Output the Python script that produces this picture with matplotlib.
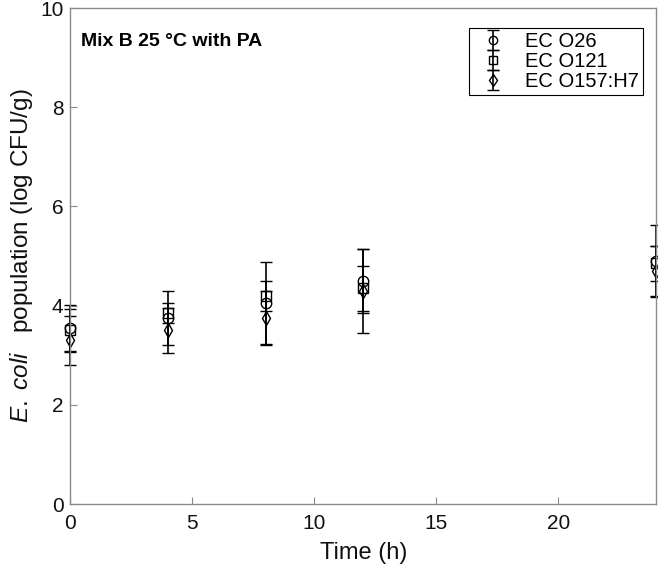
import matplotlib
matplotlib.use("Agg")
import matplotlib.pyplot as plt

plt.rcParams['font.family'] = ['Liberation Sans', 'DejaVu Sans']
plt.rcParams['mathtext.fontset'] = 'custom'
plt.rcParams['mathtext.rm'] = 'Liberation Sans'
plt.rcParams['mathtext.it'] = 'Liberation Sans:italic'

# data (log CFU/g)
time_h = [0, 4, 8, 12, 24]
o26_mean = [3.55, 3.75, 4.05, 4.50, 4.90]
o26_sd = [0.47, 0.55, 0.82, 0.65, 0.72]
o121_mean = [3.50, 3.85, 4.20, 4.35, 4.85]
o121_sd = [0.43, 0.20, 0.30, 0.45, 0.35]
o157_mean = [3.30, 3.50, 3.75, 4.30, 4.70]
o157_sd = [0.50, 0.45, 0.55, 0.85, 0.50]

series = [
    (o26_mean, o26_sd, 'o', 'EC O26'),
    (o121_mean, o121_sd, 's', 'EC O121'),
    (o157_mean, o157_sd, 'd', 'EC O157:H7'),
]

fig = plt.figure(figsize=(6.58, 5.76), dpi=100)
ax = fig.add_axes([0.107, 0.125, 0.89, 0.861])

for mean, sd, mk, lab in series:
    ax.errorbar(time_h, mean, yerr=sd, fmt=mk, color='black', mfc='none',
                mec='black', ms=7.5, mew=1.0, elinewidth=1.2, capsize=4,
                capthick=1.2, label=lab, clip_on=False)

ax.set_xlim(0, 24)
ax.set_ylim(0, 10)
ax.set_xticks([0, 5, 10, 15, 20])
ax.set_yticks([0, 2, 4, 6, 8, 10])

for sp in ax.spines.values():
    sp.set_color('#8a8a8a')
    sp.set_linewidth(1.0)
ax.tick_params(direction='in', length=5, color='#8a8a8a', labelsize=15,
               labelcolor='#111111', top=False, right=False)
ax.tick_params(axis='x', pad=7)
ax.tick_params(axis='y', pad=5)

ax.set_xlabel('Time (h)', fontsize=17, color='#111111', labelpad=7)
ax.set_ylabel(r'$\mathit{E.\ coli}$   population (log CFU/g)', fontsize=17.5,
              color='#111111', labelpad=4)

ax.text(0.018, 0.95, 'Mix B 25 °C with PA', transform=ax.transAxes,
        fontsize=14, fontweight='bold', va='top', ha='left')

leg = ax.legend(loc='upper right', bbox_to_anchor=(0.978, 0.960),
                fontsize=14.5, frameon=True, fancybox=False,
                edgecolor='black', framealpha=1, borderaxespad=0,
                handlelength=2.0, handletextpad=0.6, labelspacing=0.05,
                borderpad=0.2, markerscale=0.8)
leg.get_frame().set_linewidth(0.8)

fig.savefig('out.png', dpi=100)
